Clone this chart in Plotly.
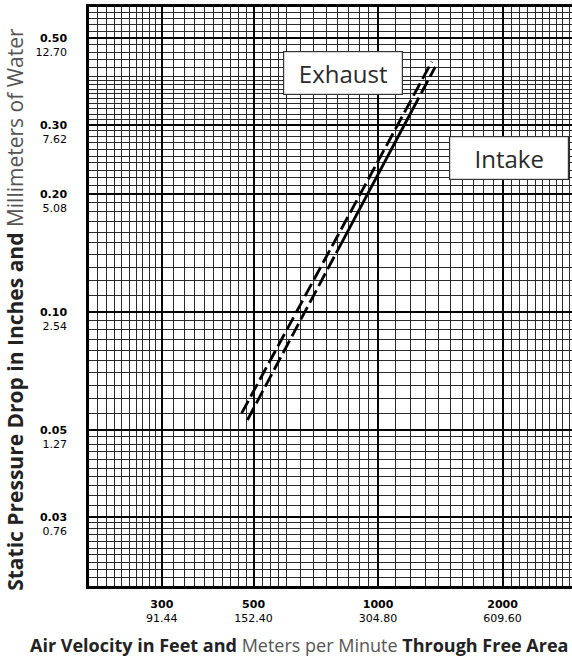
import numpy as np
import plotly.graph_objects as go

# ---- data ----
exhaust_velocity = [468, 1349]             # ft/min
exhaust_pressure = [0.0552, 0.435]         # in. w.g.
intake_velocity = [483, 792, 1210, 1375]   # dashed / solid / dashed segments
intake_pressure = [0.053, 0.1414, 0.3276, 0.422]

# ---- tick labels ----
x_tick_fpm = [300, 500, 1000, 2000]
x_tick_mpm = ["91.44", "152.40", "304.80", "609.60"]
y_tick_in = [0.50, 0.30, 0.20, 0.10, 0.05, 0.03]
y_tick_mm = ["12.70", "7.62", "5.08", "2.54", "1.27", "0.76"]

# ---- log-paper grid positions ----
x_minor = (list(range(210, 300, 10)) + list(range(320, 500, 20)) + [525, 550, 575]
           + list(range(600, 1000, 50)) + list(range(1100, 2000, 100))
           + list(range(2100, 3000, 100)))
y_minor = ([0.58, 0.56, 0.54, 0.52, 0.48, 0.46, 0.44, 0.42, 0.40, 0.39, 0.38, 0.37, 0.36,
            0.35, 0.34, 0.33, 0.32, 0.31]
           + [round(0.29 - 0.01 * i, 3) for i in range(9)]
           + [round(0.19 - 0.01 * i, 3) for i in range(9)]
           + [round(0.095 - 0.005 * i, 4) for i in range(9)]
           + [round(0.048 - 0.002 * i, 4) for i in range(9)]
           + [round(0.029 - 0.001 * i, 4) for i in range(9)])

DASH = "14px,5px"
fig = go.Figure()
fig.add_trace(go.Scatter(x=exhaust_velocity, y=exhaust_pressure, mode="lines",
                         line=dict(color="black", width=2.8, dash=DASH),
                         name="Exhaust", showlegend=False))
# intake: dashed ends, solid middle
styles = [DASH, "solid", DASH]
for i, st in enumerate(styles):
    fig.add_trace(go.Scatter(x=intake_velocity[i:i + 2], y=intake_pressure[i:i + 2], mode="lines",
                             line=dict(color="black", width=2.8, dash=st),
                             name="Intake", showlegend=False))

fig.add_annotation(x=np.log10(823), y=np.log10(0.406), xref="x", yref="y", text="Exhaust",
                   showarrow=False, font=dict(family="Open Sans", size=24, color="#2a2a2a"),
                   bgcolor="white", bordercolor="#333", borderwidth=1.2, width=116, height=40)
fig.add_annotation(x=np.log10(2069), y=np.log10(0.2478), xref="x", yref="y", text="Intake",
                   showarrow=False, font=dict(family="Open Sans", size=24, color="#2a2a2a"),
                   bgcolor="white", bordercolor="#333", borderwidth=1.2, width=116, height=40)

# axis titles (placed as annotations so their centre matches the reference)
fig.add_annotation(x=0.4348, y=-0.102, xref="paper", yref="paper", showarrow=False,
                   xanchor="center", yanchor="middle",
                   text="<b>Air Velocity in Feet and</b> <span style='color:#555'>Meters per Minute</span> <b>Through Free Area</b>",
                   font=dict(family="Open Sans", size=18, color="#222"))
fig.add_annotation(x=-0.152, y=0.478, xref="paper", yref="paper", showarrow=False,
                   xanchor="center", yanchor="middle", textangle=-90,
                   text="<b>Static Pressure Drop in Inches and</b> <span style='color:#555'>Millimeters of Water</span>",
                   font=dict(family="Open Sans", size=21, color="#222"))

xt = [f"<b>{a}</b><br>{b}" for a, b in zip(x_tick_fpm, x_tick_mpm)]
yt = [f" <br><b>{a:.2f}</b><br>{b}" for a, b in zip(y_tick_in, y_tick_mm)]

fig.update_layout(
    width=572, height=657,
    margin=dict(l=89, r=0, t=7, b=71, autoexpand=False),
    plot_bgcolor="white", paper_bgcolor="white",
    font=dict(family="DejaVu Sans", color="black"),
    xaxis=dict(type="log", range=[np.log10(200), 3.469], automargin=False,
               tickvals=x_tick_fpm, ticktext=xt, tickfont=dict(size=11, family="DejaVu Sans"),
               ticks="", ticklabelstandoff=6,
               showgrid=True, gridcolor="black", gridwidth=2.4,
               minor=dict(tickvals=x_minor, showgrid=True, gridcolor="#2a2a2a", gridwidth=1.2, ticks=""),
               showline=True, linecolor="black", linewidth=2.5, mirror=True,
               zeroline=False),
    yaxis=dict(type="log", range=[np.log10(0.02), np.log10(0.6)], automargin=False,
               tickvals=y_tick_in, ticktext=yt, tickfont=dict(size=11, family="DejaVu Sans"),
               ticks="", ticklabelstandoff=17,
               showgrid=True, gridcolor="black", gridwidth=2.4,
               minor=dict(tickvals=y_minor, showgrid=True, gridcolor="#2a2a2a", gridwidth=1.2, ticks=""),
               showline=True, linecolor="black", linewidth=2.5, mirror=False,
               zeroline=False),
)

fig.write_html("out.html", config={"displayModeBar": False},
               post_script="document.body.style.margin='0';document.body.style.overflow='hidden';")
